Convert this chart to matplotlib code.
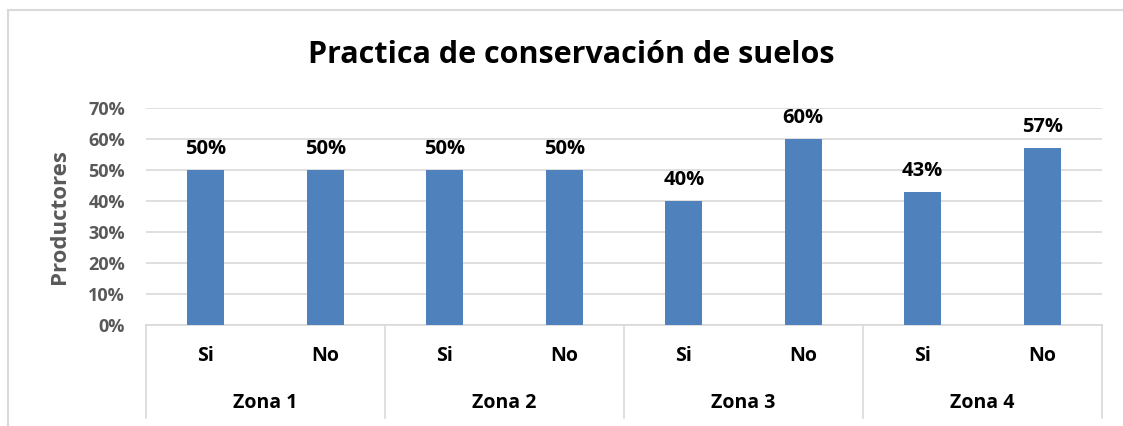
import numpy as np
import matplotlib.pyplot as plt
from matplotlib.patches import Rectangle
from matplotlib.transforms import blended_transform_factory

# data
zonas = ['Zona 1', 'Zona 2', 'Zona 3', 'Zona 4']
respuestas = ['Si', 'No']
valores = [50, 50, 50, 50, 40, 60, 43, 57]
y_ticks = [0, 10, 20, 30, 40, 50, 60, 70]

W, H = 1123, 426
fig = plt.figure(figsize=(W / 100, H / 100), dpi=100)
plt.rcParams['font.family'] = ['Open Sans', 'DejaVu Sans']

# outer chart frame
fig.patches.append(Rectangle((8 / W, -0.1), 1.2, 1 - 10 / H + 0.1, transform=fig.transFigure,
                             fill=False, edgecolor='#D9D9D9', linewidth=1.5))

ax = fig.add_axes([146 / W, 1 - 325 / H, (1102 - 146) / W, (325 - 108) / H])

n = len(valores)
x = np.arange(n)
ax.bar(x, valores, width=0.31, color='#4F81BD', zorder=3)
ax.set_xlim(-0.5, n - 0.5)
ax.set_ylim(0, 70)
ax.set_yticks(y_ticks)
ax.set_yticklabels([f'{t}%' for t in y_ticks], color='#595959', fontsize=13, fontweight='bold')
ax.tick_params(axis='y', length=0, pad=15)
ax.set_xticks([])
ax.grid(axis='y', color='#D9D9D9', linewidth=1.2, zorder=0)
for s in ['top', 'right', 'left']:
    ax.spines[s].set_visible(False)
ax.spines['bottom'].set_color('#D9D9D9')
ax.spines['bottom'].set_linewidth(1.2)

for xi, v in zip(x, valores):
    ax.annotate(f'{v}%', (xi, v), xytext=(0, 8), textcoords='offset points',
                ha='center', va='bottom', fontsize=14.5, fontweight='bold')

# multi-level category axis
tr = blended_transform_factory(ax.transData, ax.transAxes)
ax_h = 325 - 108
for i in range(n):
    ax.text(x[i], -(356 - 325) / ax_h, respuestas[i % 2], transform=tr,
            ha='center', va='center', fontsize=14, fontweight='bold')
for j, z in enumerate(zonas):
    ax.text(2 * j + 0.5, -(403 - 325) / ax_h, z, transform=tr,
            ha='center', va='center', fontsize=14, fontweight='bold')
for k in range(len(zonas) + 1):
    ax.plot([2 * k - 0.5, 2 * k - 0.5], [0, -(418 - 325) / ax_h], transform=tr,
            color='#D9D9D9', linewidth=1.2, clip_on=False)

ax.set_ylabel('Productores', color='#595959', fontsize=16, fontweight='bold')
ax.yaxis.set_label_coords(-(146 - 70) / (1102 - 146), 0.5)

fig.text(0.5 + 10 / W, 1 - 55 / H, 'Practica de conservación de suelos',
         ha='center', va='center', fontsize=22, fontweight='bold')

fig.savefig('out.png', dpi=100)
